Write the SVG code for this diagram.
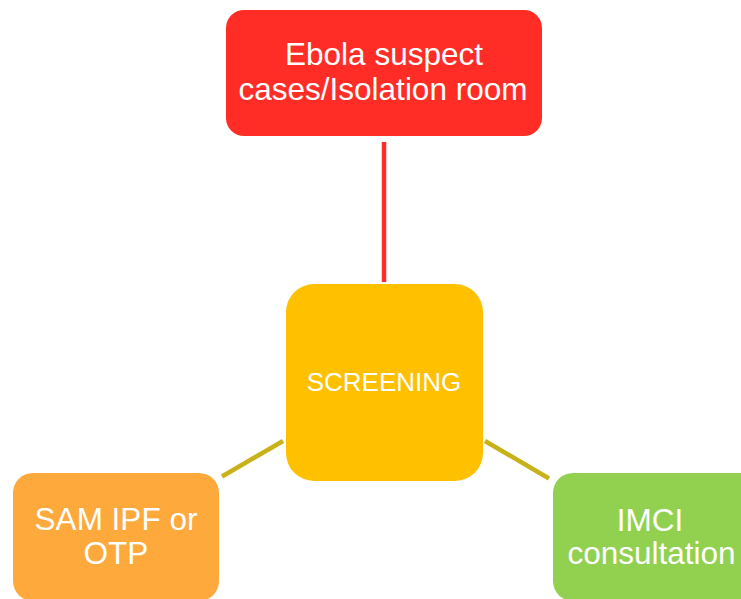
<svg xmlns="http://www.w3.org/2000/svg" width="741" height="599" viewBox="0 0 741 599">
  <style>
    .label { font-family: "Liberation Sans", Arial, sans-serif; fill: #ffffff; text-anchor: middle; }
    .big { font-size: 31.5px; }
    .mid { font-size: 26px; }
    .link { fill: none; stroke-width: 4.5; stroke-linecap: butt; }
  </style>
  <rect width="741" height="599" fill="#ffffff"/>

  <!-- connectors -->
  <g id="connectors">
    <line class="link" x1="384" y1="142" x2="384" y2="282" stroke="#ff2d25"/>
    <line class="link" x1="222" y1="476.5" x2="283" y2="441" stroke="#c9b11a"/>
    <line class="link" x1="485" y1="441" x2="549" y2="478.5" stroke="#c9b11a"/>
  </g>

  <!-- isolation -->
  <g id="node-isolation">
    <rect x="226" y="10" width="316" height="126" rx="18" fill="#ff2d25"/>
    <text class="label big" x="384" y="64.5">Ebola suspect</text>
    <text class="label big" x="383" y="99.5">cases/Isolation room</text>
  </g>

  <!-- screening -->
  <g id="node-screening">
    <rect x="286" y="284" width="197" height="197" rx="28" fill="#ffc000"/>
    <text class="label mid" x="384" y="390.5">SCREENING</text>
  </g>

  <!-- SAM -->
  <g id="node-sam">
    <rect x="13" y="473" width="206" height="128" rx="20" fill="#fda93b"/>
    <text class="label big" x="116" y="530">SAM IPF or</text>
    <text class="label big" x="116" y="563.5">OTP</text>
  </g>

  <!-- IMCI -->
  <g id="node-imci">
    <rect x="553" y="473" width="206" height="128" rx="20" fill="#92d050"/>
    <text class="label big" x="650" y="530.5">IMCI</text>
    <text class="label big" x="651.5" y="563.5">consultation</text>
  </g>
</svg>
